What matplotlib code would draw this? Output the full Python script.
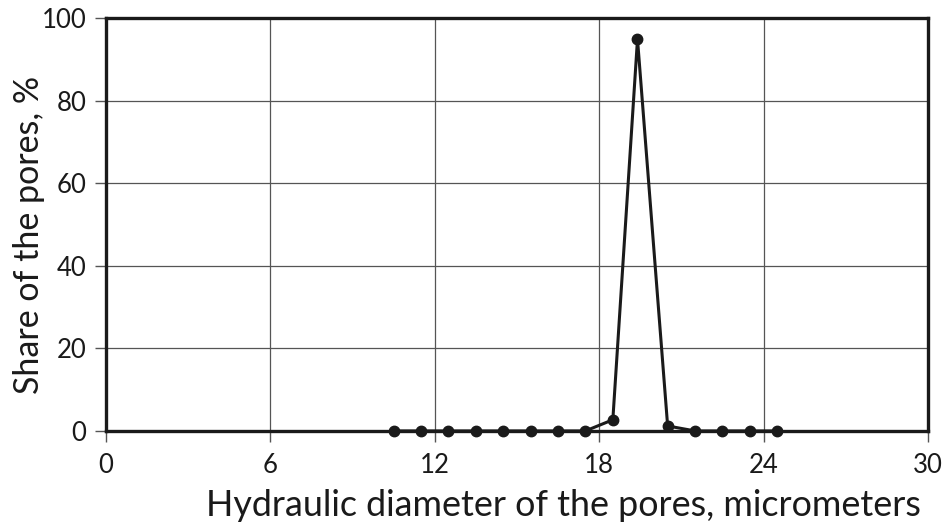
import numpy as np
import matplotlib.pyplot as plt

plt.rcParams['font.family'] = ['Lato', 'DejaVu Sans']

# pore diameter (micrometers) and share of pores (%)
diameter = [10.5, 11.5, 12.5, 13.5, 14.5, 15.5, 16.5, 17.5, 18.5, 19.4, 20.5, 21.5, 22.5, 23.5, 24.5]
share = [0, 0, 0, 0, 0, 0, 0, 0, 2.7, 94.9, 1.2, 0, 0, 0, 0]

x_ticks = [0, 6, 12, 18, 24, 30]
y_ticks = [0, 20, 40, 60, 80, 100]

fig = plt.figure(figsize=(9.45, 5.32), dpi=100)
ax = fig.add_axes([0.112, 0.19, 0.87, 0.776])

ax.plot(diameter, share, color='#1a1a1a', lw=2.2, marker='o', ms=7.5, zorder=3, clip_on=False)

ax.set_xlim(0, 30)
ax.set_ylim(0, 100)
ax.set_xticks(x_ticks)
ax.set_yticks(y_ticks)
ax.grid(True, color='#555555', lw=0.9)
ax.set_axisbelow(True)

for s in ax.spines.values():
    s.set_linewidth(2.4)
    s.set_color('#1a1a1a')

ax.tick_params(axis='both', direction='out', length=8, width=1, color='#555555',
               labelsize=18.5, labelcolor='#1a1a1a')
ax.tick_params(axis='x', pad=8)
ax.tick_params(axis='y', pad=6)

ax.set_xlabel("Hydraulic diameter of the pores, micrometers", fontsize=25.8, color='#1a1a1a')
ax.set_ylabel("Share of the pores, %", fontsize=24.5, color='#1a1a1a')
ax.xaxis.set_label_coords(0.557, -0.14)
ax.yaxis.set_label_coords(-0.074, 0.475)

fig.savefig("out.png", dpi=100)
